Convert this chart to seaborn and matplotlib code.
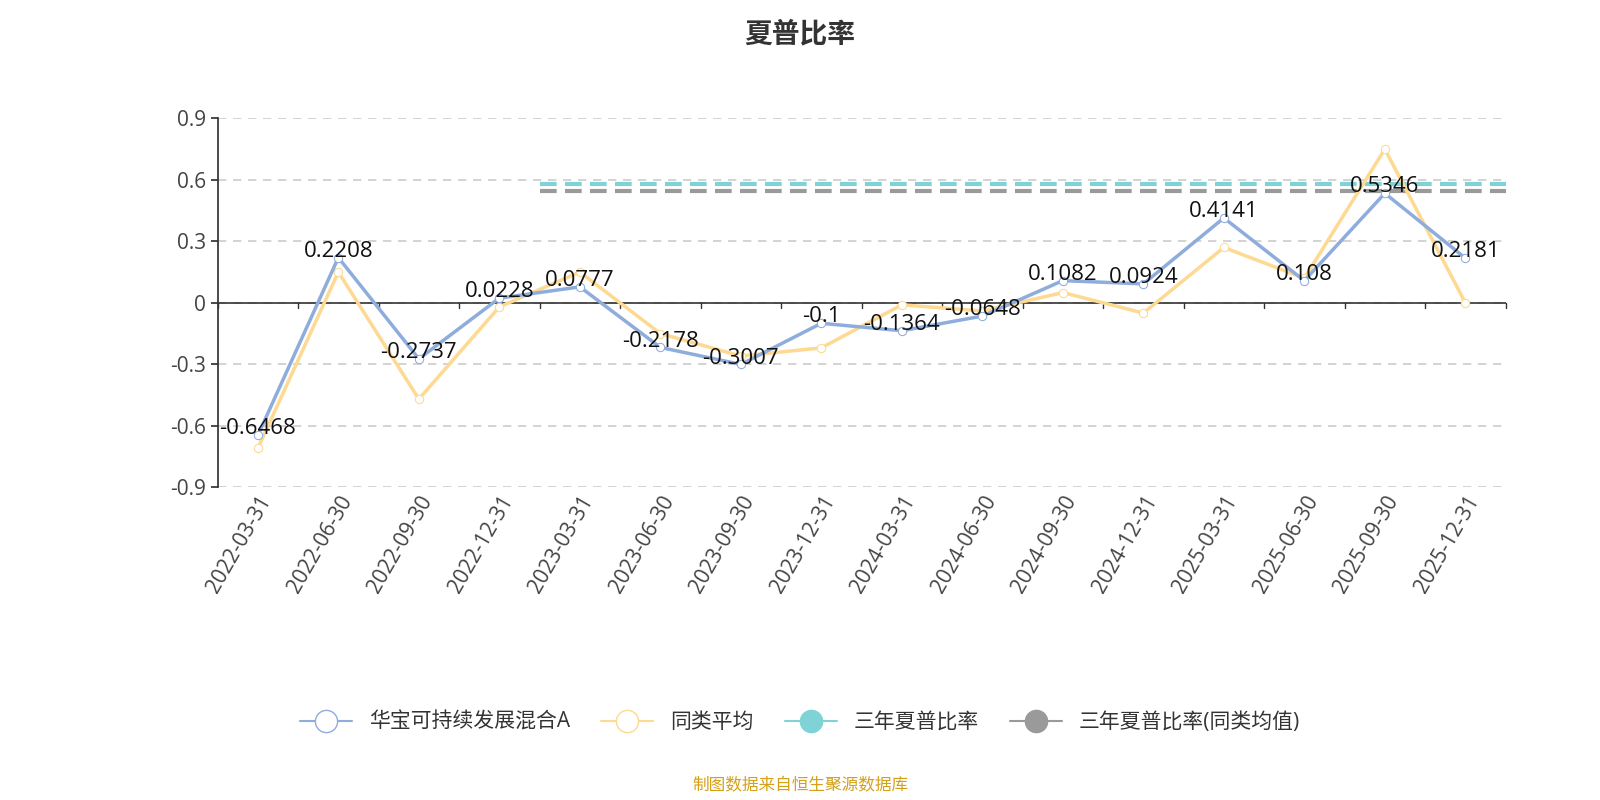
import matplotlib
matplotlib.use('Agg')
import matplotlib.pyplot as plt
import seaborn as sns
import pandas as pd
from matplotlib.lines import Line2D

dates = ["2022-03-31", "2022-06-30", "2022-09-30", "2022-12-31",
         "2023-03-31", "2023-06-30", "2023-09-30", "2023-12-31",
         "2024-03-31", "2024-06-30", "2024-09-30", "2024-12-31",
         "2025-03-31", "2025-06-30", "2025-09-30", "2025-12-31"]
fund = [-0.6468, 0.2208, -0.2737, 0.0228, 0.0777, -0.2178, -0.3007, -0.1,
        -0.1364, -0.0648, 0.1082, 0.0924, 0.4141, 0.108, 0.5346, 0.2181]
peer = [-0.71, 0.15, -0.47, -0.02, 0.15, -0.15, -0.26, -0.22,
        -0.01, -0.04, 0.05, -0.05, 0.27, 0.12, 0.75, 0.0]
three_year = 0.58
three_year_peer = 0.545
three_year_start = 4  # index of 2023-03-31

sns.set_theme(style="white")
plt.rcParams['font.family'] = ['Open Sans', 'Noto Sans CJK SC', 'DejaVu Sans']

df = pd.DataFrame({"date": dates, "x": range(len(dates)), "fund": fund, "peer": peer})

fig = plt.figure(figsize=(16, 8), dpi=100)
ax = fig.add_axes([0.136, 0.391, 0.805, 0.461])

blue = "#8eacdc"
yellow = "#fdd992"
cyan = "#7fd3d6"
grey = "#9a9a9a"

sns.lineplot(data=df, x="x", y="fund", ax=ax, color=blue, lw=2.5, marker="o",
             markersize=6, markerfacecolor="white", markeredgecolor=blue, zorder=4)
sns.lineplot(data=df, x="x", y="peer", ax=ax, color=yellow, lw=2.5, marker="o",
             markersize=6, markerfacecolor="white", markeredgecolor=yellow, zorder=3)
xs = [three_year_start - 0.5, len(dates) - 0.5]
ax.plot(xs, [three_year] * 2, color=cyan, lw=3, ls=(0, (4, 2)), zorder=2)
ax.plot(xs, [three_year_peer] * 2, color=grey, lw=3, ls=(0, (4, 2)), zorder=2)

for i, v in enumerate(fund):
    ax.text(i, v - 0.02, f"{v:g}", ha="center", va="bottom", fontsize=16, color="#111111", zorder=5)

ax.set_xlim(-0.5, len(dates) - 0.5)
ax.set_ylim(-0.9, 0.9)
ax.set_yticks([-0.9, -0.6, -0.3, 0, 0.3, 0.6, 0.9])
ax.set_yticklabels(["-0.9", "-0.6", "-0.3", "0", "0.3", "0.6", "0.9"], fontsize=15, color="#444444")
ax.set_xticks(range(len(dates)))
ax.set_xticklabels(dates, rotation=60, ha="right", rotation_mode="anchor", fontsize=15, color="#444444")
ax.set_xlabel("")
ax.set_ylabel("")
ax.yaxis.grid(True, ls=(0, (5, 4)), color="#cccccc", lw=1.2)
for s in ["top", "right", "bottom"]:
    ax.spines[s].set_visible(False)
ax.spines["left"].set_color("#333333")
ax.axhline(0, color="#333333", lw=1.2, zorder=1)
ax.tick_params(axis="y", length=5, color="#333333", left=True)
for i in range(len(dates) + 1):
    ax.plot([i - 0.5, i - 0.5], [0, -0.025], color="#333333", lw=1, clip_on=False)
ax.tick_params(axis="x", length=0)

fig.suptitle("夏普比率", y=0.975, fontsize=20, fontweight="bold", color="#333333",
             family=['Noto Sans CJK SC', 'DejaVu Sans'])

handles = [
    Line2D([], [], color=blue, marker="o", markersize=16, markerfacecolor="white", lw=1.5),
    Line2D([], [], color=yellow, marker="o", markersize=16, markerfacecolor="white", lw=1.5),
    Line2D([], [], color=cyan, marker="o", markersize=16, markerfacecolor=cyan, lw=1.5),
    Line2D([], [], color=grey, marker="o", markersize=16, markerfacecolor=grey, lw=1.5),
]
labels = ["华宝可持续发展混合A", "同类平均", "三年夏普比率", "三年夏普比率(同类均值)"]
fig.legend(handles, labels, loc="center", bbox_to_anchor=(0.5, 0.097), ncol=4, frameon=False,
           fontsize=15, handlelength=2.5, columnspacing=1.5, labelcolor="#333333")
fig.text(0.5, 0.012, "制图数据来自恒生聚源数据库", ha="center", fontsize=12, color="#d4a017",
         family=['Noto Sans CJK SC', 'DejaVu Sans'])

fig.savefig("out.png")
